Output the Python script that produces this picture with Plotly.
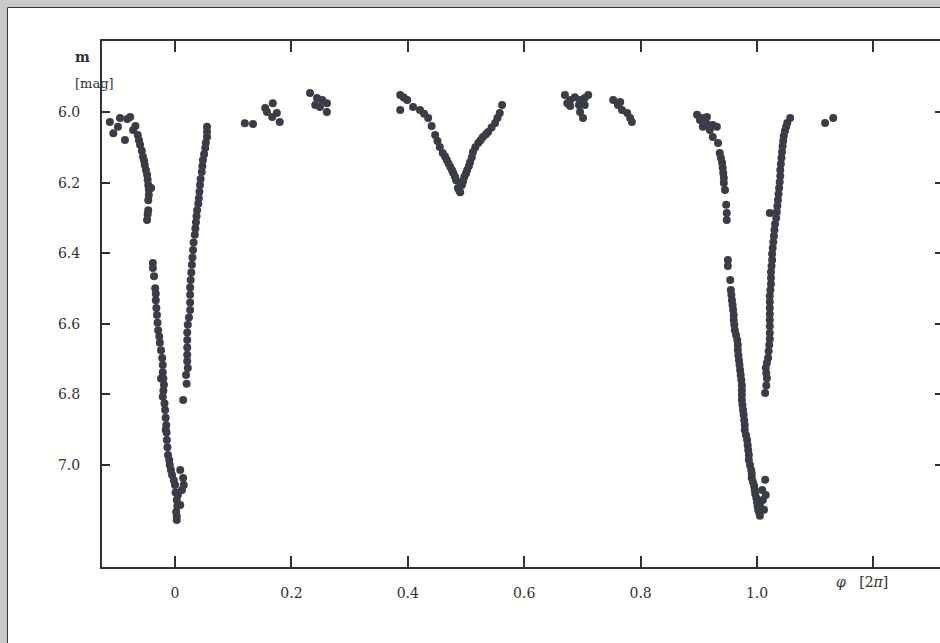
import plotly.graph_objects as go

# ---- data (phase in units of 2*pi, magnitude) ----
ecl1_phase = [-0.112, -0.0945, -0.098, -0.086, -0.077, -0.072, -0.064, -0.060, -0.055, -0.052,
              -0.048, -0.046, -0.045, -0.046, -0.048, -0.038, -0.038, -0.034, -0.033, -0.031,
              -0.029, -0.026, -0.022, -0.021, -0.019, -0.021, -0.017, -0.015, -0.014, -0.012,
              -0.009, -0.005, 0.000, 0.003, 0.002, 0.003,
              0.009, 0.014, 0.012, 0.005, 0.015, 0.009,
              0.014, 0.019, 0.022, 0.021, 0.021, 0.022, 0.026, 0.026, 0.027, 0.029,
              0.031, 0.034, 0.036, 0.038, 0.041, 0.043, 0.046, 0.048, 0.052, 0.055, 0.055,
              -0.106, -0.082, -0.068, -0.041, -0.024, -0.016,
              -0.036, -0.033, -0.032, -0.030, -0.027, -0.024, -0.021, -0.020, -0.020, -0.018,
              -0.016, -0.0145, -0.013, -0.010, -0.007, -0.002, 0.001, 0.004, 0.003,
              0.020, 0.021, 0.021, 0.021, 0.024, 0.026, 0.026, 0.028, 0.030, 0.032,
              0.035, 0.037, 0.040, 0.042, 0.044, 0.047, 0.050, 0.053, 0.055,
              -0.050, -0.053, -0.057, -0.062, -0.047, -0.045, -0.046, -0.047]
ecl1_mag = [6.028, 6.017, 6.042, 6.079, 6.014, 6.051, 6.065, 6.093, 6.127, 6.150,
            6.178, 6.207, 6.235, 6.278, 6.306, 6.428, 6.442, 6.499, 6.533, 6.575,
            6.618, 6.654, 6.697, 6.737, 6.773, 6.807, 6.844, 6.887, 6.929, 6.972,
            7.000, 7.028, 7.057, 7.099, 7.133, 7.156,
            7.014, 7.037, 7.071, 7.085, 7.057, 7.113,
            6.816, 6.745, 6.725, 6.688, 6.646, 6.603, 6.561, 6.518, 6.476, 6.433,
            6.391, 6.348, 6.312, 6.278, 6.244, 6.207, 6.170, 6.136, 6.102, 6.071, 6.042,
            6.060, 6.020, 6.040, 6.215, 6.755, 6.900,
            6.465, 6.515, 6.555, 6.597, 6.636, 6.675, 6.717, 6.755, 6.790, 6.826,
            6.866, 6.908, 6.950, 6.986, 7.014, 7.043, 7.078, 7.117, 7.145,
            6.770, 6.706, 6.667, 6.625, 6.582, 6.540, 6.497, 6.455, 6.412, 6.370,
            6.330, 6.295, 6.260, 6.226, 6.190, 6.153, 6.120, 6.087, 6.056,
            6.164, 6.138, 6.110, 6.080, 6.192, 6.220, 6.250, 6.290]

max1_phase = [0.120, 0.134, 0.168, 0.158, 0.167, 0.180, 0.175, 0.155,
              0.232, 0.244, 0.261, 0.249, 0.261, 0.241, 0.253]
max1_mag = [6.032, 6.034, 5.975, 6.000, 6.014, 6.028, 6.003, 5.989,
            5.946, 5.960, 5.975, 5.986, 6.000, 5.980, 5.966]

ecl2_phase = [0.387, 0.399, 0.387, 0.409, 0.421, 0.435, 0.447, 0.455, 0.460, 0.467,
              0.473, 0.478, 0.483, 0.486, 0.490, 0.493, 0.497, 0.502, 0.507, 0.512,
              0.521, 0.529, 0.538, 0.550, 0.558, 0.562,
              0.393, 0.428, 0.441, 0.451, 0.464, 0.470, 0.476, 0.481, 0.488, 0.495,
              0.500, 0.505, 0.510, 0.516, 0.525, 0.534, 0.544, 0.554]
ecl2_mag = [5.952, 5.966, 5.994, 5.986, 5.994, 6.017, 6.065, 6.099, 6.116, 6.136,
            6.156, 6.173, 6.193, 6.215, 6.227, 6.207, 6.184, 6.164, 6.142, 6.113,
            6.088, 6.071, 6.057, 6.031, 6.003, 5.980,
            5.959, 6.005, 6.040, 6.082, 6.126, 6.146, 6.165, 6.183, 6.221, 6.196,
            6.174, 6.153, 6.128, 6.100, 6.080, 6.064, 6.044, 6.017]

max2_phase = [0.670, 0.679, 0.687, 0.696, 0.704, 0.710, 0.679, 0.694, 0.704, 0.696, 0.701, 0.674,
              0.753, 0.761, 0.768, 0.777, 0.782, 0.785, 0.765]
max2_mag = [5.952, 5.966, 5.958, 5.966, 5.960, 5.952, 5.983, 5.980, 5.980, 6.000, 6.017, 5.975,
            5.966, 5.980, 5.994, 6.003, 6.017, 6.028, 5.972]

ecl3_phase = [0.897, 0.902, 0.907, 0.914, 0.907, 0.914, 0.919, 0.924, 0.931, 0.924,
              0.933, 0.936, 0.940, 0.942, 0.943, 0.945, 0.947, 0.948, 0.948, 0.950,
              0.950, 0.954, 0.955, 0.957, 0.959, 0.960, 0.962, 0.966, 0.967, 0.969,
              0.971, 0.973, 0.974, 0.974, 0.976, 0.978, 0.979, 0.983, 0.985, 0.986,
              0.990, 0.991, 0.995, 0.997, 1.000, 1.002, 1.005,
              1.009, 1.014, 1.010, 1.015, 1.005, 1.012,
              1.014, 1.017, 1.015, 1.019, 1.021, 1.022, 1.022, 1.022, 1.022, 1.024,
              1.024, 1.026, 1.027, 1.029, 1.031, 1.022, 1.034, 1.036, 1.038, 1.040,
              1.041, 1.043, 1.045, 1.048, 1.052, 1.057,
              1.117, 1.131,
              0.956, 0.958, 0.960, 0.961, 0.964, 0.967, 0.968, 0.970, 0.972, 0.974,
              0.974, 0.975, 0.977, 0.979, 0.981, 0.984, 0.986, 0.988, 0.991, 0.993,
              0.996, 0.999, 1.001, 1.004, 0.938, 0.941, 0.943,
              1.016, 1.016, 1.017, 1.020, 1.022, 1.022, 1.022, 1.022, 1.023, 1.024,
              1.025, 1.026, 1.028, 1.030, 1.033, 1.035, 1.037, 1.039, 1.040, 1.042,
              1.044, 1.046, 1.050]
ecl3_mag = [6.008, 6.023, 6.017, 6.014, 6.042, 6.034, 6.051, 6.037, 6.042, 6.071,
            6.088, 6.116, 6.144, 6.173, 6.201, 6.221, 6.263, 6.286, 6.306, 6.419,
            6.436, 6.476, 6.504, 6.533, 6.561, 6.589, 6.618, 6.646, 6.674, 6.703,
            6.731, 6.759, 6.788, 6.816, 6.844, 6.873, 6.901, 6.929, 6.958, 6.986,
            7.014, 7.037, 7.059, 7.082, 7.105, 7.127, 7.144,
            7.071, 7.042, 7.099, 7.085, 7.113, 7.127,
            6.796, 6.754, 6.725, 6.697, 6.660, 6.626, 6.589, 6.555, 6.521, 6.487,
            6.453, 6.419, 6.385, 6.351, 6.317, 6.286, 6.283, 6.249, 6.215, 6.181,
            6.147, 6.113, 6.082, 6.054, 6.031, 6.017,
            6.031, 6.017,
            6.518, 6.547, 6.575, 6.603, 6.632, 6.660, 6.689, 6.717, 6.745, 6.774,
            6.802, 6.830, 6.858, 6.887, 6.915, 6.944, 6.972, 7.000, 7.025, 7.048,
            7.070, 7.094, 7.116, 7.136, 6.130, 6.158, 6.187,
            6.775, 6.740, 6.711, 6.678, 6.643, 6.607, 6.572, 6.538, 6.504, 6.470,
            6.436, 6.402, 6.368, 6.334, 6.300, 6.266, 6.232, 6.198, 6.164, 6.130,
            6.097, 6.068, 6.042]

x_tickvals = [0, 0.2, 0.4, 0.6, 0.8, 1.0, 1.2]
x_ticktext = ["0", "0.2", "0.4", "0.6", "0.8", "1.0", ""]
y_tickvals = [6.0, 6.2, 6.4, 6.6, 6.8, 7.0]
y_ticktext = ["6.0", "6.2", "6.4", "6.6", "6.8", "7.0"]

phase = ecl1_phase + max1_phase + ecl2_phase + max2_phase + ecl3_phase
mag = ecl1_mag + max1_mag + ecl2_mag + max2_mag + ecl3_mag

W, H = 940, 643
ML, MR, MT, MB = 102, 0, 41, 76
PW, PH = W - ML - MR, H - MT - MB


def px(x):
    return (x - ML) / PW


def py(y):
    return (H - MB - y) / PH


FONT = "DejaVu Serif"
INK = "#2e3036"

fig = go.Figure()
fig.add_trace(go.Scatter(
    x=phase, y=mag, mode="markers",
    marker=dict(size=8, color="#3a3d45", line=dict(width=0)),
    showlegend=False, hoverinfo="skip"))
# invisible trace for right-side ticks
fig.add_trace(go.Scatter(x=[0], y=[6.5], yaxis="y2", mode="markers",
                         marker=dict(opacity=0), showlegend=False, hoverinfo="skip"))

x0 = (ML - 175) / 582
x1 = (W - MR - 175) / 582
ytop = 6.0 - (112 - MT) / 353
ybot = 6.0 + (H - MB - 112) / 353

fig.update_layout(
    width=W, height=H,
    margin=dict(l=ML, r=MR, t=MT, b=MB),
    paper_bgcolor="white", plot_bgcolor="#fffffd",
    font=dict(family=FONT, size=14, color=INK),
    xaxis=dict(range=[x0, x1], tickvals=x_tickvals, ticktext=x_ticktext,
               ticks="inside", ticklen=11, tickwidth=2, tickcolor=INK,
               showline=True, linewidth=2, linecolor=INK, mirror="ticks",
               showgrid=False, zeroline=False, ticklabelstandoff=12,
               tickfont=dict(family=FONT, size=14, color=INK)),
    yaxis=dict(range=[ybot, ytop], tickvals=y_tickvals, ticktext=y_ticktext,
               ticks="inside", ticklen=8, tickwidth=2, tickcolor=INK,
               showline=True, linewidth=2, linecolor=INK,
               showgrid=False, zeroline=False, ticklabelstandoff=17,
               tickfont=dict(family=FONT, size=14, color=INK)),
    yaxis2=dict(range=[ybot, ytop], tickvals=y_tickvals, overlaying="y", side="right",
                ticks="inside", ticklen=5, tickwidth=2, tickcolor=INK,
                showticklabels=False, showline=False, showgrid=False, zeroline=False),
)

shapes = [
    # scanned page tint
    dict(type="rect", xref="paper", yref="paper", x0=px(42), x1=px(W), y0=py(612), y1=py(30),
         fillcolor="#fffffd", line=dict(width=0), layer="below"),
    # grey frame top and left
    dict(type="rect", xref="paper", yref="paper", x0=px(0), x1=px(W), y0=py(7), y1=py(0),
         fillcolor="#c8c8c8", line=dict(width=0)),
    dict(type="rect", xref="paper", yref="paper", x0=px(0), x1=px(7), y0=py(H), y1=py(0),
         fillcolor="#c8c8c8", line=dict(width=0)),
    dict(type="line", xref="paper", yref="paper", x0=px(7.5), x1=px(W), y0=py(7.5), y1=py(7.5),
         line=dict(color="#333", width=1)),
    dict(type="line", xref="paper", yref="paper", x0=px(7.5), x1=px(7.5), y0=py(7.5), y1=py(H),
         line=dict(color="#333", width=1)),
]
fig.update_layout(shapes=shapes)

anns = [
    dict(text="<b>m</b>", x=px(73), y=py(47), xref="paper", yref="paper", showarrow=False,
         font=dict(family=FONT, size=14, color=INK)),
    dict(text="[mag]", x=px(73), y=py(74), xref="paper", yref="paper", showarrow=False,
         font=dict(family=FONT, size=13, color=INK)),
    dict(text="<i>φ</i>   [2<i>π</i>]", x=px(890), y=py(592), xref="paper", yref="paper",
         showarrow=False, font=dict(family=FONT, size=14, color=INK)),
]
fig.update_layout(annotations=anns)

fig.write_html("out.html")
